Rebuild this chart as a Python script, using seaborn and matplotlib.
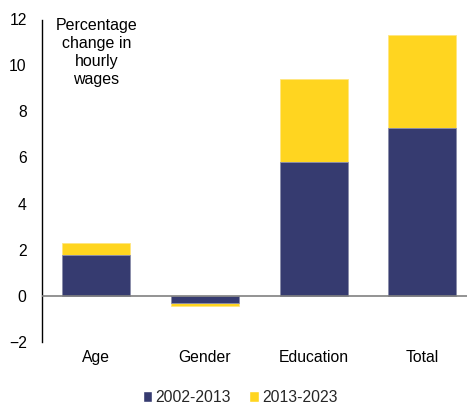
import numpy as np
import pandas as pd
import seaborn as sns
import matplotlib.pyplot as plt
from matplotlib.patches import Patch

# Decomposition of wage change, by factor
categories = ['Age', 'Gender', 'Education', 'Total']
period_2002_2013 = [1.77, -0.30, 5.79, 7.27]
period_2013_2023 = [0.54, -0.12, 3.63, 4.03]

navy = '#363B70'
yellow = '#FFD520'

df = pd.DataFrame({'category': categories,
                   'p1': period_2002_2013,
                   'p2': period_2013_2023})
df['total'] = df['p1'] + df['p2']

sns.set_theme(style='white')
plt.rcParams['font.family'] = ['Liberation Sans', 'DejaVu Sans']

fig = plt.figure(figsize=(4.67, 4.05), dpi=100)
ax = fig.add_axes([42 / 467, 63 / 405, 425 / 467, 323 / 405])

# stacked look: full height in yellow, first period in navy over it
sns.barplot(data=df, x='category', y='total', color=yellow, width=0.625,
            edgecolor='#FFE680', linewidth=0.6, saturation=1, ax=ax)
sns.barplot(data=df, x='category', y='p1', color=navy, width=0.625,
            edgecolor='#8A8FB5', linewidth=0.6, saturation=1, ax=ax)

ax.axhline(0, color='#808080', lw=1.2, zorder=3)
ax.set_ylim(-2, 12)
ax.set_xlim(-0.5, 3.41)
ax.set_yticks(np.arange(-2, 13, 2))
ax.set_xlabel('')
ax.set_ylabel('')
for s in ['top', 'right', 'bottom']:
    ax.spines[s].set_visible(False)
ax.spines['left'].set_color('black')
ax.spines['left'].set_linewidth(1)
ax.spines['left'].set_bounds(-2, 11.95)
ax.tick_params(axis='y', length=0, pad=11, labelsize=11.3, colors='black')
ax.tick_params(axis='x', length=0, pad=6, labelsize=11.3, colors='black')

ax.text(0.0, 12.05, 'Percentage\nchange in\nhourly\nwages', ha='center', va='top',
        fontsize=11.5, linespacing=1.25, color='black')

handles = [Patch(facecolor=navy, label='2002-2013'),
           Patch(facecolor=yellow, label='2013-2023')]
fig.legend(handles=handles, loc='center', bbox_to_anchor=(240 / 467, 1 - 397 / 405),
           ncol=2, frameon=False, fontsize=11.3, handlelength=0.6, handleheight=0.7,
           handletextpad=0.2, columnspacing=1.2)

fig.savefig('out.png', dpi=100)
